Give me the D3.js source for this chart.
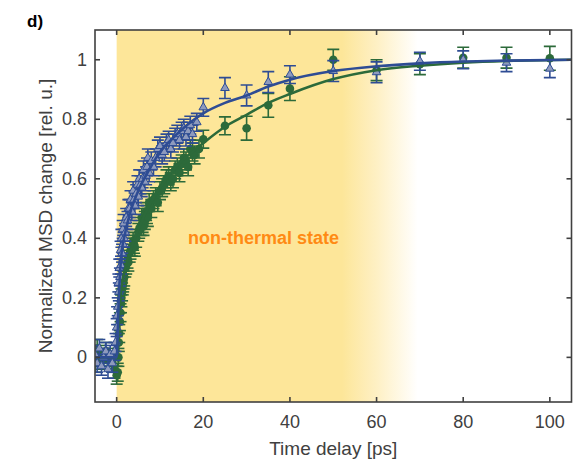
<!DOCTYPE html>
<meta charset="utf-8" />
<script src="https://d3js.org/d3.v7.js"></script>
<style>
  body { margin: 0; background: white; }
  text { font-family: Arial, "Liberation Sans", Helvetica, sans-serif; }
</style>
<div id="chart"></div>
<script>
  // blue (triangles) series
  const blueT = [
    -5, -4.5, -4, -3.5, -3, -2.5, -2, -1.5, -1, -0.5,
    -0.25, 0, 0.1, 0.25, 0.4, 0.5, 0.6, 0.75, 0.9, 1,
    1.1, 1.25, 1.4, 1.5, 1.6, 1.75, 2, 2.2, 2.5, 2.7,
    3, 3.2, 3.5, 3.8, 4, 4.2, 4.5, 4.8, 5, 5.2,
    5.5, 5.8, 6, 6.2, 6.5, 6.8, 7, 7.2, 7.5, 8,
    8.5, 9, 9.5, 10, 10.5, 11, 11.5, 12, 12.5, 13,
    13.5, 14, 14.5, 15, 15.5, 16, 16.5, 17, 17.5, 18.5,
    20, 25, 30, 35, 40, 50, 60, 70, 80, 90,
    100,
  ];
  const blueV = [
    0.01, -0.02, 0.03, -0.03, 0.0, 0.02, -0.04, 0.01, -0.02, 0.02,
    0.05, 0.1, 0.14, 0.17, 0.25, 0.22, 0.3, 0.27, 0.36, 0.31,
    0.4, 0.35, 0.43, 0.38, 0.45, 0.4, 0.42, 0.47, 0.46, 0.5,
    0.5, 0.53, 0.49, 0.56, 0.53, 0.51, 0.55, 0.58, 0.54, 0.6,
    0.58, 0.57, 0.6, 0.63, 0.59, 0.61, 0.64, 0.67, 0.62, 0.66,
    0.64, 0.67, 0.7, 0.71, 0.68, 0.69, 0.72, 0.73, 0.7, 0.72,
    0.74, 0.75, 0.73, 0.76, 0.77, 0.74, 0.76, 0.78, 0.75, 0.79,
    0.84, 0.905, 0.88, 0.925, 0.95, 0.962, 0.958, 0.995, 1.0, 0.99,
    0.97,
  ];
  const blueE = [
    0.03, 0.03, 0.03, 0.03, 0.03, 0.03, 0.03, 0.03, 0.03, 0.03,
    0.03, 0.03, 0.03, 0.03, 0.03, 0.03, 0.03, 0.03, 0.03, 0.03,
    0.03, 0.03, 0.03, 0.03, 0.03, 0.03, 0.03, 0.03, 0.03, 0.03,
    0.03, 0.03, 0.03, 0.03, 0.03, 0.03, 0.03, 0.03, 0.03, 0.03,
    0.03, 0.03, 0.03, 0.03, 0.03, 0.03, 0.03, 0.03, 0.03, 0.03,
    0.03, 0.03, 0.03, 0.03, 0.03, 0.03, 0.03, 0.03, 0.03, 0.03,
    0.03, 0.03, 0.03, 0.03, 0.03, 0.03, 0.03, 0.03, 0.03, 0.03,
    0.03, 0.035, 0.035, 0.035, 0.03, 0.035, 0.035, 0.03, 0.03, 0.03,
    0.03,
  ];

  // green (circles) series
  const greenT = [
    -5, -4.5, -4, -3.5, -3, -2.5, -2, -1.5, -1, -0.5,
    0, 0.25, 0.4, 0.5, 0.6, 0.75, 0.9, 1, 1.1, 1.25,
    1.4, 1.5, 1.6, 1.75, 2, 2.2, 2.5, 2.7, 3, 3.2,
    3.5, 3.8, 4, 4.2, 4.5, 5, 5.2, 5.5, 5.8, 6,
    6.2, 6.5, 6.8, 7, 7.2, 7.5, 8, 8.5, 9, 9.5,
    10, 10.5, 11, 11.5, 12, 12.5, 13, 13.5, 14, 14.5,
    15, 15.5, 16, 16.5, 17, 17.5, 18, 19, 20, 25,
    30, 35, 40, 50, 60, 70, 80, 90, 100,
  ];
  const greenV = [
    -0.02, 0.03, 0.01, -0.01, 0.0, 0.02, -0.01, 0.0, -0.02, -0.04,
    -0.06, -0.05, 0.0, 0.05, 0.08, 0.12, 0.15, 0.18, 0.2, 0.22,
    0.24, 0.25, 0.26, 0.27, 0.3, 0.31, 0.33, 0.32, 0.35, 0.36,
    0.37, 0.39, 0.38, 0.37, 0.4, 0.42, 0.43, 0.44, 0.47, 0.45,
    0.44, 0.46, 0.49, 0.48, 0.47, 0.52, 0.5, 0.53, 0.54, 0.52,
    0.56, 0.57, 0.58, 0.6, 0.61, 0.59, 0.6, 0.63, 0.64, 0.62,
    0.65, 0.67, 0.66, 0.64, 0.7, 0.69, 0.68, 0.7, 0.733, 0.778,
    0.77, 0.847, 0.903, 1.0, 0.965, 0.985, 1.007, 1.007, 1.005,
  ];
  const greenE = [
    0.03, 0.03, 0.03, 0.03, 0.03, 0.03, 0.03, 0.03, 0.03, 0.03,
    0.03, 0.03, 0.03, 0.03, 0.03, 0.03, 0.03, 0.03, 0.03, 0.03,
    0.03, 0.03, 0.03, 0.03, 0.03, 0.03, 0.03, 0.03, 0.03, 0.03,
    0.03, 0.03, 0.03, 0.03, 0.03, 0.03, 0.03, 0.03, 0.03, 0.03,
    0.03, 0.03, 0.03, 0.03, 0.03, 0.03, 0.03, 0.03, 0.03, 0.03,
    0.03, 0.03, 0.03, 0.03, 0.03, 0.03, 0.03, 0.03, 0.03, 0.03,
    0.03, 0.03, 0.03, 0.03, 0.03, 0.03, 0.03, 0.03, 0.03, 0.03,
    0.04, 0.04, 0.04, 0.035, 0.035, 0.035, 0.035, 0.035, 0.04,
  ];

  // fitted curves
  const fitT = [-5, 0, 0.5, 1, 2, 3, 5, 7.5, 10, 12.5, 15, 17.5, 20, 25, 30, 35, 40, 50, 60, 70, 80, 90, 105];
  const blueFit = [0, 0, 0.2, 0.33, 0.42, 0.48, 0.56, 0.63, 0.69, 0.73, 0.765, 0.795, 0.82, 0.855, 0.88, 0.91, 0.933, 0.962, 0.978, 0.988, 0.994, 0.997, 1.0];
  const greenFit = [0, 0, 0.12, 0.22, 0.3, 0.35, 0.43, 0.51, 0.57, 0.62, 0.66, 0.69, 0.72, 0.775, 0.815, 0.855, 0.885, 0.935, 0.965, 0.98, 0.99, 0.996, 1.0];

  const xTicks = [0, 20, 40, 60, 80, 100];
  const yTicks = [0, 0.2, 0.4, 0.6, 0.8, 1];

  const width = 574;
  const height = 459;
  const blue = "#2e4c94";
  const green = "#2c6a3a";
  const axisColor = "#404040";

  const svg = d3
    .select("#chart")
    .append("svg")
    .attr("width", width)
    .attr("height", height);

  const x = d3.scaleLinear().domain([-5, 105]).range([95, 571.5]);
  const y = d3.scaleLinear().domain([-0.15, 1.1]).range([402, 30]);

  const defs = svg.append("defs");
  defs
    .append("clipPath")
    .attr("id", "plotclip")
    .append("rect")
    .attr("x", x(-5))
    .attr("y", y(1.1))
    .attr("width", x(105) - x(-5))
    .attr("height", y(-0.15) - y(1.1));

  // yellow band fading out
  const grad = defs
    .append("linearGradient")
    .attr("id", "band")
    .attr("gradientUnits", "userSpaceOnUse")
    .attr("x1", x(0))
    .attr("x2", x(105))
    .attr("y1", 0)
    .attr("y2", 0);
  grad.append("stop").attr("offset", 52 / 105).attr("stop-color", "#fde699");
  grad.append("stop").attr("offset", 60 / 105).attr("stop-color", "#fef0c4");
  grad.append("stop").attr("offset", 69.5 / 105).attr("stop-color", "#ffffff");

  svg
    .append("rect")
    .attr("x", x(0))
    .attr("y", y(1.1))
    .attr("width", x(105) - x(0))
    .attr("height", y(-0.15) - y(1.1))
    .attr("fill", "url(#band)");

  svg
    .append("text")
    .attr("x", 188)
    .attr("y", 244)
    .attr("fill", "#ff8a14")
    .style("font-size", "18px")
    .style("font-weight", "bold")
    .text("non-thermal state");

  const plot = svg.append("g").attr("clip-path", "url(#plotclip)");

  function drawSeries(ts, vs, es, color, marker) {
    const data = ts.map((t, i) => ({ t: t, v: vs[i], e: es[i] }));
    const g = plot.append("g");
    const bars = g
      .selectAll("g.err")
      .data(data)
      .join("g")
      .attr("class", "err")
      .attr("stroke", color)
      .attr("stroke-width", 1.6);
    bars
      .append("line")
      .attr("x1", (d) => x(d.t))
      .attr("x2", (d) => x(d.t))
      .attr("y1", (d) => y(d.v - d.e))
      .attr("y2", (d) => y(d.v + d.e));
    bars
      .append("line")
      .attr("x1", (d) => x(d.t) - 6)
      .attr("x2", (d) => x(d.t) + 6)
      .attr("y1", (d) => y(d.v + d.e))
      .attr("y2", (d) => y(d.v + d.e));
    bars
      .append("line")
      .attr("x1", (d) => x(d.t) - 6)
      .attr("x2", (d) => x(d.t) + 6)
      .attr("y1", (d) => y(d.v - d.e))
      .attr("y2", (d) => y(d.v - d.e));

    if (marker == "circle") {
      g.selectAll("circle")
        .data(data)
        .join("circle")
        .attr("cx", (d) => x(d.t))
        .attr("cy", (d) => y(d.v))
        .attr("r", 4.3)
        .attr("fill", color);
    } else {
      const tri = d3.symbol().type(d3.symbolTriangle).size(32);
      g.selectAll("path")
        .data(data)
        .join("path")
        .attr("d", tri)
        .attr("transform", (d) => `translate(${x(d.t)},${y(d.v)})`)
        .attr("fill", "#8e9abd")
        .attr("stroke", color)
        .attr("stroke-width", 1);
    }
  }

  drawSeries(greenT, greenV, greenE, green, "circle");
  drawSeries(blueT, blueV, blueE, blue, "triangle");

  const line = d3.line().curve(d3.curveMonotoneX);
  plot
    .append("path")
    .attr("d", line(fitT.map((t, i) => [x(t), y(greenFit[i])])))
    .attr("fill", "none")
    .attr("stroke", green)
    .attr("stroke-width", 2.6);
  plot
    .append("path")
    .attr("d", line(fitT.map((t, i) => [x(t), y(blueFit[i])])))
    .attr("fill", "none")
    .attr("stroke", blue)
    .attr("stroke-width", 2.6);

  // frame + inward ticks on all four sides
  const ax = svg.append("g").attr("stroke", axisColor).attr("stroke-width", 1.6);
  ax.append("rect")
    .attr("x", x(-5))
    .attr("y", y(1.1))
    .attr("width", x(105) - x(-5))
    .attr("height", y(-0.15) - y(1.1))
    .attr("fill", "none");
  xTicks.forEach((t) => {
    ax.append("line").attr("x1", x(t)).attr("x2", x(t)).attr("y1", y(-0.15)).attr("y2", y(-0.15) - 5);
    ax.append("line").attr("x1", x(t)).attr("x2", x(t)).attr("y1", y(1.1)).attr("y2", y(1.1) + 5);
  });
  yTicks.forEach((v) => {
    ax.append("line").attr("x1", x(-5)).attr("x2", x(-5) + 5).attr("y1", y(v)).attr("y2", y(v));
    ax.append("line").attr("x1", x(105)).attr("x2", x(105) - 5).attr("y1", y(v)).attr("y2", y(v));
  });

  svg
    .selectAll("text.xt")
    .data(xTicks)
    .join("text")
    .attr("class", "xt")
    .attr("x", (d) => x(d))
    .attr("y", 428)
    .attr("text-anchor", "middle")
    .attr("fill", axisColor)
    .style("font-size", "18px")
    .text((d) => d);

  svg
    .selectAll("text.yt")
    .data(yTicks)
    .join("text")
    .attr("class", "yt")
    .attr("x", 87)
    .attr("y", (d) => y(d) + 6)
    .attr("text-anchor", "end")
    .attr("fill", axisColor)
    .style("font-size", "18px")
    .text((d) => d);

  svg
    .append("text")
    .attr("x", x(50))
    .attr("y", 455)
    .attr("text-anchor", "middle")
    .attr("fill", axisColor)
    .style("font-size", "19px")
    .text("Time delay [ps]");

  svg
    .append("text")
    .attr("transform", `translate(52,${y(0.475)}) rotate(-90)`)
    .attr("text-anchor", "middle")
    .attr("fill", axisColor)
    .style("font-size", "19px")
    .text("Normalized MSD change [rel. u.]");

  svg
    .append("text")
    .attr("x", 27)
    .attr("y", 27)
    .style("font-size", "17px")
    .style("font-weight", "bold")
    .text("d)");
</script>
